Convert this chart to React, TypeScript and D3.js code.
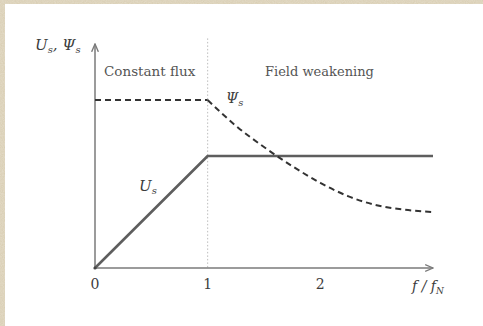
import React from "react";
import * as d3 from "d3";

// Normalised frequency f/fN and the two characteristics
const usFreq = [0, 1, 3];
const usValue = [0, 1, 1];
const psiFreq = [0, 1, 1.25, 1.5, 1.75, 2, 2.25, 2.5, 2.75, 3];
const psiValue = [1.5, 1.5, 1.27, 1.08, 0.91, 0.76, 0.64, 0.56, 0.52, 0.5];
const xTicks = [0, 1, 2];
const regionLabels = ["Constant flux", "Field weakening"];

const W = 483;
const H = 326;
const serif = "'DejaVu Serif', 'Liberation Serif', serif";

export default function App() {
  const x = d3.scaleLinear().domain([0, 3]).range([95, 433]);
  const y = d3.scaleLinear().domain([0, 2]).range([268, 44]);

  const usLine = d3
    .line<number>()
    .x((_, i) => x(usFreq[i]))
    .y((d) => y(d));

  const psiFlat = d3
    .line<number>()
    .x((_, i) => x(psiFreq[i]))
    .y((d) => y(d));

  const psiFall = d3
    .line<number>()
    .x((_, i) => x(psiFreq[i + 1]))
    .y((d) => y(d))
    .curve(d3.curveMonotoneX);

  const axisColor = "#7a7a7a";
  const textColor = "#3c3c3c";

  return (
    <svg
      width={W}
      height={H}
      style={{ position: "absolute", left: 0, top: 0 }}
      xmlns="http://www.w3.org/2000/svg"
    >
      <defs>
        <filter id="paper" x="0" y="0" width="100%" height="100%">
          <feTurbulence type="fractalNoise" baseFrequency="0.9" numOctaves="2" seed="3" />
          <feColorMatrix
            type="matrix"
            values="0 0 0 0 0.82  0 0 0 0 0.77  0 0 0 0 0.66  0 0 0 -1.2 1.1"
          />
        </filter>
        <marker id="arrow" viewBox="0 0 8 8" refX="7" refY="4" markerWidth="6" markerHeight="6" orient="auto">
          <path d="M0,1 L7,4 L0,7" fill="none" stroke={axisColor} strokeWidth={1.2} />
        </marker>
      </defs>

      {/* textured frame on the left and top edges */}
      <rect x={0} y={0} width={W} height={H} fill="#d9ceb3" />
      <rect x={0} y={0} width={W} height={H} filter="url(#paper)" opacity={0.6} />
      <rect x={5} y={4} width={W - 5} height={H - 4} fill="#ffffff" />

      {/* boundary between the two regions */}
      <line
        x1={x(1)}
        x2={x(1)}
        y1={y(2.05)}
        y2={y(0)}
        stroke="#bdbdbd"
        strokeWidth={1}
        strokeDasharray="1.5 2"
      />

      {/* axes */}
      <line x1={x(0)} y1={y(0)} x2={x(0)} y2={y(2)} stroke={axisColor} strokeWidth={1.5} markerEnd="url(#arrow)" />
      <line x1={x(0)} y1={y(0)} x2={x(3)} y2={y(0)} stroke={axisColor} strokeWidth={1.5} markerEnd="url(#arrow)" />

      {/* stator voltage */}
      <path d={usLine(usValue) ?? ""} fill="none" stroke="#5e5e5e" strokeWidth={2.6} strokeLinejoin="round" />

      {/* stator flux */}
      <path
        d={psiFlat(psiValue.slice(0, 2)) ?? ""}
        fill="none"
        stroke="#333"
        strokeWidth={2}
        strokeDasharray="6 4"
      />
      <path
        d={psiFall(psiValue.slice(1)) ?? ""}
        fill="none"
        stroke="#333"
        strokeWidth={2}
        strokeDasharray="6 4"
      />

      <circle cx={x(0)} cy={y(0)} r={1.6} fill="#444" />

      {/* tick labels */}
      {xTicks.map((t) => (
        <text
          key={t}
          x={x(t)}
          y={289}
          textAnchor="middle"
          fontFamily={serif}
          fontSize={14}
          fill={textColor}
        >
          {t}
        </text>
      ))}

      {/* region labels */}
      <text x={104} y={76} fontFamily={serif} fontSize={13.5} fill="#555">
        {regionLabels[0]}
      </text>
      <text x={265} y={76} fontFamily={serif} fontSize={13} fill="#555">
        {regionLabels[1]}
      </text>

      {/* curve labels */}
      <text x={139} y={191} fontFamily={serif} fontStyle="italic" fontSize={15} fill={textColor}>
        U<tspan fontSize={10} dy={3}>s</tspan>
      </text>
      <text x={226} y={103} fontFamily={serif} fontStyle="italic" fontSize={14} fill={textColor}>
        Ψ<tspan fontSize={10} dy={3}>s</tspan>
      </text>

      {/* axis titles */}
      <text x={35} y={50} fontFamily={serif} fontStyle="italic" fontSize={15} fill={textColor}>
        U<tspan fontSize={10} dy={3}>s</tspan>
        <tspan dy={-3}>, Ψ</tspan>
        <tspan fontSize={10} dy={3}>s</tspan>
      </text>
      <text x={412} y={291} fontFamily={serif} fontStyle="italic" fontSize={14} fill={textColor}>
        f / f<tspan fontSize={9} dy={3}>N</tspan>
      </text>
    </svg>
  );
}
